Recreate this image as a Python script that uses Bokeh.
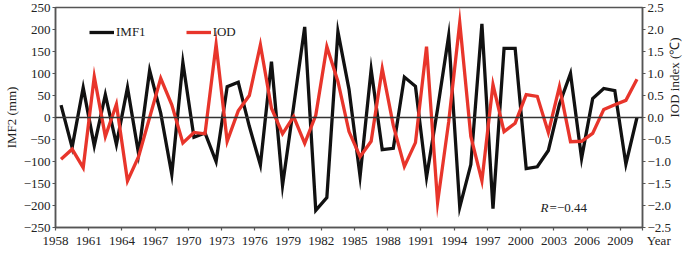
import math
from bokeh.plotting import figure
from bokeh.models import (Range1d, LinearAxis, FixedTicker, CustomJSTickFormatter,
                          Span, Label, Legend, LegendItem)
from bokeh.embed import file_html
from bokeh.resources import INLINE

# ---- data ----
years = list(range(1958, 2011))
imf1 = [28, -68, 68, -64, 52, -61, 68, -82, 107, 10,
        -129, 125, -45, -35, -100, 70, 80, -20, -108, 127,
        -154, 25, 206, -211, -182, 195, 64, -134, 109, -73,
        -70, 92, 71, -136, 20, 186, -204, -107, 213, -207,
        157, 157, -116, -112, -75, 30, 100, -93, 43, 66,
        61, -106, 0]
iod = [-0.95, -0.72, -1.14, 0.93, -0.43, 0.30, -1.44, -0.89, 0.0, 0.89,
       0.29, -0.58, -0.34, -0.37, 1.66, -0.54, 0.15, 0.50, 1.65, 0.21,
       -0.37, 0.02, -0.59, 0.05, 1.61, 0.82, -0.32, -0.89, -0.54, 1.11,
       -0.18, -1.11, -0.57, 1.61, -1.93, -0.10, 2.16, -0.43, -1.44, 0.75,
       -0.32, -0.13, 0.52, 0.48, -0.34, 0.70, -0.55, -0.54, -0.36, 0.18,
       0.29, 0.39, 0.87]
x_ticks = list(range(1958, 2010, 3))
left_ticks = list(range(-250, 251, 50))
right_ticks = [v / 2 for v in range(-5, 6)]
r_text = "=\u22120.44"
year_text = "Year"
right_label = "IOD index (\u2103)"
left_label = "IMF2 (mm)"

xs = [y + 0.5 for y in years]

FONT = "Liberation Serif"
TXT = "#222222"
AX = "#555555"
W, H = 692, 250
X0, X1 = 1958, 2011

p = figure(width=W, height=H, output_backend="svg", toolbar_location=None,
           x_range=Range1d(X0, X1), y_range=Range1d(-250, 250),
           min_border_top=7, min_border_left=0, min_border_right=0, min_border_bottom=0)
p.grid.visible = False
p.outline_line_color = AX
p.outline_line_width = 1.5
p.background_fill_color = "white"
p.border_fill_color = "white"

p.extra_y_ranges = {"iod": Range1d(-2.5, 2.5), "lab": Range1d(-1, 1)}

def style_axis(ax):
    ax.axis_line_color = AX
    ax.axis_line_width = 1.5
    ax.major_tick_line_color = AX
    ax.major_tick_line_width = 1.2
    ax.major_tick_out = 3
    ax.major_tick_in = 0
    ax.minor_tick_line_color = None
    ax.major_label_text_font = FONT
    ax.major_label_text_font_size = "13px"
    ax.major_label_text_color = TXT
    ax.axis_label_text_font = FONT
    ax.axis_label_text_font_size = "13px"
    ax.axis_label_text_font_style = "normal"
    ax.axis_label_text_color = TXT
    ax.major_label_standoff = 2
    ax.axis_label_standoff = 2

# bottom axis; the end tick carries the "Year" caption just right of the frame
xa = p.xaxis[0]
style_axis(xa)
xa.ticker = FixedTicker(ticks=x_ticks + [X1])
xa.major_label_overrides = {X1: "\u00a0" * 10 + year_text}

ya = p.yaxis[0]
style_axis(ya)
ya.ticker = FixedTicker(ticks=left_ticks)
ya.formatter = CustomJSTickFormatter(code="return tick < 0 ? '\\u2212' + Math.abs(tick) : String(tick);")
ya.axis_label = left_label

ra = LinearAxis(y_range_name="iod")
style_axis(ra)
ra.ticker = FixedTicker(ticks=right_ticks)
ra.formatter = CustomJSTickFormatter(code="return (tick < 0 ? '\\u2212' : '') + Math.abs(tick).toFixed(1);")
p.add_layout(ra, "right")

# right-hand axis title, reading bottom to top
la = LinearAxis(y_range_name="lab")
style_axis(la)
la.axis_line_color = None
la.major_tick_line_color = None
la.major_tick_out = 0
la.major_label_standoff = 0
la.ticker = FixedTicker(ticks=[0])
la.major_label_overrides = {0: right_label}
la.major_label_orientation = math.pi / 2
p.add_layout(la, "right")

p.add_layout(Span(location=0, dimension="width", line_color="#333333", line_width=1.5))

r1 = p.line(xs, imf1, line_color="#111111", line_width=3.3, line_join="miter")
r2 = p.line(xs, iod, y_range_name="iod", line_color="#e8352b", line_width=3.3, line_join="miter")

legend = Legend(items=[LegendItem(label="IMF1", renderers=[r1]),
                       LegendItem(label="IOD", renderers=[r2])],
                orientation="horizontal", location=(34, 187),
                background_fill_alpha=0, border_line_alpha=0,
                padding=0, margin=0, spacing=40, label_standoff=2,
                glyph_width=25, glyph_height=14,
                label_text_font=FONT, label_text_font_size="13px",
                label_text_color=TXT)
p.add_layout(legend)

p.add_layout(Label(x=2001.8, y=-204, text="R", text_font=FONT, text_font_size="13px",
                   text_font_style="italic", text_color=TXT, text_baseline="middle"))
p.add_layout(Label(x=2001.8, y=-204, x_offset=9, text=r_text, text_font=FONT,
                   text_font_size="13px", text_color=TXT, text_baseline="middle"))

open("out.html", "w").write(file_html(p, INLINE))
